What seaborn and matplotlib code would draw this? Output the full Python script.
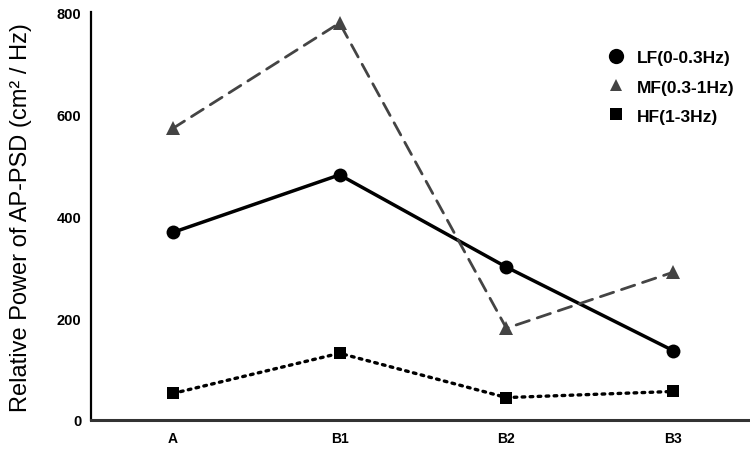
import matplotlib
matplotlib.use("Agg")
import matplotlib.pyplot as plt
from matplotlib.lines import Line2D
import seaborn as sns
import pandas as pd

categories = ["A", "B1", "B2", "B3"]
lf_values = [368, 481, 300, 136]
mf_values = [572, 779, 180, 290]
hf_values = [52, 131, 44, 56]
series_names = ["LF(0-0.3Hz)", "MF(0.3-1Hz)", "HF(1-3Hz)"]
y_ticks = [0, 200, 400, 600, 800]

sns.set_theme(style="white")
plt.rcParams['font.family'] = ['Liberation Sans', 'DejaVu Sans']
plt.rcParams['text.color'] = '#000000'
plt.rcParams['axes.labelcolor'] = '#000000'

df = pd.DataFrame({
    "cond": categories * 3,
    "value": lf_values + mf_values + hf_values,
    "band": [series_names[0]] * 4 + [series_names[1]] * 4 + [series_names[2]] * 4,
})

fig = plt.figure(figsize=(7.5, 4.52), dpi=100)
ax = fig.add_axes([0.1213, 0.0686, 0.8787, 0.902])

styles = {
    series_names[0]: dict(color="#000000", marker="o", ms=10, ls="-", lw=2.5),
    series_names[1]: dict(color="#444444", marker="^", ms=9.5, ls=(0, (5, 3)), lw=2.0),
    series_names[2]: dict(color="#000000", marker="s", ms=8.5, ls=(0, (0.8, 1.6)), lw=2.4),
}

for name in series_names:
    st = styles[name]
    sub = df[df["band"] == name]
    sns.lineplot(data=sub, x="cond", y="value", ax=ax, color=st["color"],
                 marker=st["marker"], markersize=st["ms"], linestyle=st["ls"],
                 linewidth=st["lw"], markeredgewidth=0, legend=False,
                 dash_capstyle="round", sort=False)

ax.set_xlim(-0.49, 3.46)
ax.set_ylim(0, 800)
ax.set_yticks(y_ticks)
ax.set_yticklabels([str(v) for v in y_ticks], fontsize=10.5, fontweight="bold")
ax.set_xticks(range(len(categories)))
ax.set_xticklabels(categories, fontsize=10, fontweight="bold")
ax.tick_params(axis="y", direction="in", length=11, width=1.5, pad=7, colors="#000000")
ax.tick_params(axis="x", length=0, pad=8, colors="#000000")
ax.set_xlabel("")
ax.set_ylabel("Relative Power of AP-PSD (cm² / Hz)", fontsize=17, labelpad=18)

for s in ["top", "right"]:
    ax.spines[s].set_visible(False)
ax.spines["left"].set_color("#000000")
ax.spines["left"].set_linewidth(1.6)
ax.spines["bottom"].set_color("#333333")
ax.spines["bottom"].set_linewidth(2.2)

handles = [
    Line2D([], [], color="#000000", marker="o", ls="none", markersize=11, markeredgewidth=0),
    Line2D([], [], color="#444444", marker="^", ls="none", markersize=9, markeredgewidth=0),
    Line2D([], [], color="#000000", marker="s", ls="none", markersize=8, markeredgewidth=0),
]
leg = ax.legend(handles, series_names, loc="upper right", bbox_to_anchor=(1.0, 0.945),
                frameon=False, handletextpad=0.2, labelspacing=0.8,
                prop={"size": 12.5, "weight": "bold"})

fig.savefig("out.png", dpi=100)
